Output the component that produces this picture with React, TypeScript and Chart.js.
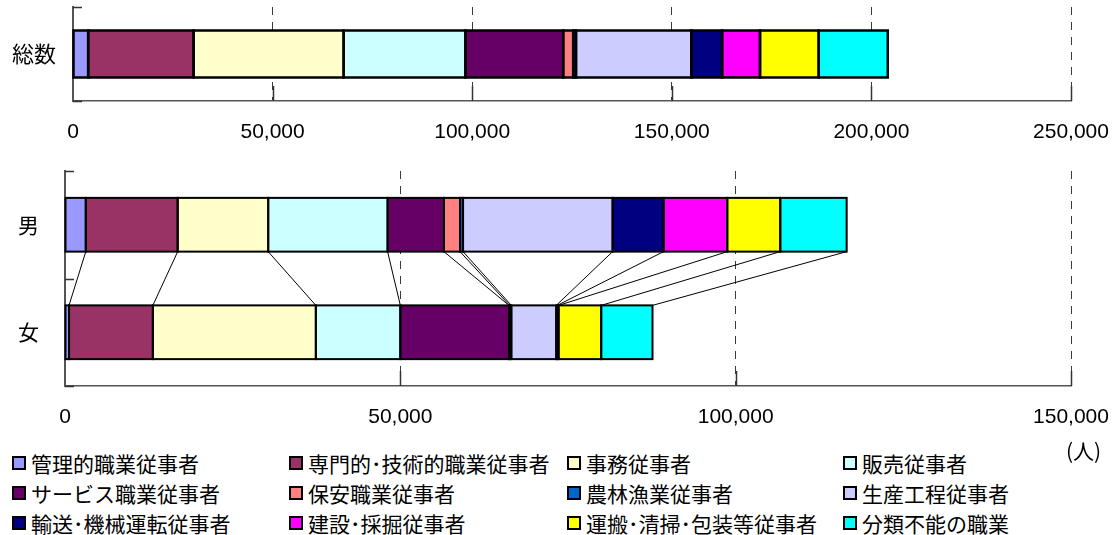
import React, { useEffect, useRef } from 'react';
import { Chart, registerables } from 'chart.js';

Chart.register(...registerables);

// ---- data ----
const occupations = [
  '管理的職業従事者',
  '専門的･技術的職業従事者',
  '事務従事者',
  '販売従事者',
  'サービス職業従事者',
  '保安職業従事者',
  '農林漁業従事者',
  '生産工程従事者',
  '輸送･機械運転従事者',
  '建設･採掘従事者',
  '運搬･清掃･包装等従事者',
  '分類不能の職業',
];

const colors = [
  '#9999FF',
  '#993366',
  '#FFFFCC',
  '#CCFFFF',
  '#660066',
  '#FF8080',
  '#0066CC',
  '#CCCCFF',
  '#000080',
  '#FF00FF',
  '#FFFF00',
  '#00FFFF',
];

const totalLabels = ['総数'];
const totalValues = [3800, 26400, 37600, 30500, 24500, 2500, 700, 28900, 7700, 9500, 14700, 17300];

const sexLabels = ['男', '女'];
const maleValues = [3100, 13700, 13500, 17800, 8400, 2400, 450, 22300, 7600, 9500, 7900, 9900];
const femaleValues = [600, 12500, 24300, 12600, 16200, 100, 250, 6700, 150, 200, 6350, 7650];

const topAxisMax = 250000;
const bottomAxisMax = 150000;
const axisStep = 50000;
const unitLabel = '(人)';

// ---- fonts ----
const NUM_FONT = '"Liberation Sans", Arial, sans-serif';
const JP_FONT = '"Noto Sans CJK JP", "Noto Sans", sans-serif';

// ---- plugins ----
const barOutline = {
  id: 'barOutline',
  afterDatasetsDraw(chart: any, _args: any, opts: any) {
    const ctx = chart.ctx;
    ctx.save();
    ctx.strokeStyle = '#000';
    ctx.lineWidth = opts.lineWidth || 2;
    chart.data.datasets.forEach((_ds: any, di: number) => {
      const meta = chart.getDatasetMeta(di);
      meta.data.forEach((el: any) => {
        const p = el.getProps(['x', 'y', 'base', 'height'], true);
        const x0 = Math.min(p.x, p.base);
        const w = Math.abs(p.x - p.base);
        ctx.strokeRect(x0, p.y - p.height / 2, w, p.height);
      });
    });
    if (opts.connectors) {
      ctx.lineWidth = 1;
      ctx.beginPath();
      chart.data.datasets.forEach((_ds: any, di: number) => {
        const meta = chart.getDatasetMeta(di);
        const a = meta.data[0].getProps(['x', 'y', 'height'], true);
        const b = meta.data[1].getProps(['x', 'y', 'height'], true);
        ctx.moveTo(a.x, a.y + a.height / 2);
        ctx.lineTo(b.x, b.y - b.height / 2);
      });
      ctx.stroke();
    }
    ctx.restore();
  },
};

const innerTicks = {
  id: 'innerTicks',
  afterDraw(chart: any) {
    const { ctx, chartArea } = chart;
    const { left, top, bottom } = chartArea;
    const xs = chart.scales.x;
    const ys = chart.scales.y;
    ctx.save();
    ctx.strokeStyle = '#333';
    ctx.lineWidth = 1.5;
    ctx.beginPath();
    xs.ticks.forEach((_t: any, i: number) => {
      if (i === 0) return;
      const px = Math.round(xs.getPixelForTick(i)) + 0.5;
      ctx.moveTo(px, bottom);
      ctx.lineTo(px, bottom - 15);
    });
    const n = ys.ticks.length;
    for (let i = 0; i <= n; i++) {
      const py = Math.round(top + ((bottom - top) * i) / n) + 0.5;
      ctx.moveTo(left, py);
      ctx.lineTo(left + 9, py);
    }
    ctx.stroke();
    ctx.restore();
  },
};

function zeroPadding(s: any) {
  s.paddingTop = 0;
  s.paddingBottom = 0;
  s.paddingLeft = 0;
  s.paddingRight = 0;
}

function makeConfig(
  labels: string[],
  series: number[][],
  max: number,
  opts: { padTop: number; padRight: number; xHeight: number; yWidth: number; yPad: number; yFont: number; outline: number; connectors: boolean }
): any {
  return {
    type: 'bar',
    data: {
      labels,
      datasets: occupations.map((name, i) => ({
        label: name,
        data: series.map((s) => s[i]),
        backgroundColor: colors[i],
        borderWidth: 0,
        barPercentage: 0.5,
        categoryPercentage: 1,
      })),
    },
    options: {
      indexAxis: 'y',
      animation: false,
      responsive: false,
      maintainAspectRatio: false,
      layout: { padding: { top: opts.padTop, right: opts.padRight, left: 0, bottom: 0 } },
      plugins: {
        legend: { display: false },
        tooltip: { enabled: false },
        barOutline: { lineWidth: opts.outline, connectors: opts.connectors },
      },
      scales: {
        x: {
          stacked: true,
          min: 0,
          max,
          ticks: {
            stepSize: axisStep,
            padding: 19,
            color: '#000',
            font: { family: NUM_FONT, size: 21 },
            autoSkip: false,
            maxRotation: 0,
            callback: (v: any) => Number(v).toLocaleString('en-US'),
          },
          grid: {
            drawTicks: false,
            lineWidth: 1,
            color: (c: any) => (c.tick && c.tick.value === 0 ? 'rgba(0,0,0,0)' : '#3a3a3a'),
          },
          border: { display: true, color: '#555', width: 1.5, dash: [8, 7] },
          afterFit: (s: any) => {
            s.height = opts.xHeight;
            zeroPadding(s);
          },
        },
        y: {
          stacked: true,
          ticks: {
            padding: opts.yPad,
            color: '#000',
            font: { family: JP_FONT, size: opts.yFont },
          },
          grid: { display: false, drawTicks: false },
          border: { display: true, color: '#555', width: 2 },
          afterFit: (s: any) => {
            s.width = opts.yWidth;
            zeroPadding(s);
          },
        },
      },
    },
    plugins: [barOutline, innerTicks],
  };
}

export default function App() {
  const topRef = useRef<HTMLCanvasElement | null>(null);
  const botRef = useRef<HTMLCanvasElement | null>(null);

  useEffect(() => {
    const c1 = new Chart(
      topRef.current as HTMLCanvasElement,
      makeConfig(totalLabels, [totalValues], topAxisMax, {
        padTop: 7,
        padRight: 43,
        xHeight: 49,
        yWidth: 73,
        yPad: 17,
        yFont: 22,
        outline: 2.5,
        connectors: false,
      })
    );
    const c2 = new Chart(
      botRef.current as HTMLCanvasElement,
      makeConfig(sexLabels, [maleValues, femaleValues], bottomAxisMax, {
        padTop: 21,
        padRight: 43,
        xHeight: 54,
        yWidth: 65,
        yPad: 26,
        yFont: 21,
        outline: 2,
        connectors: true,
      })
    );
    return () => {
      c1.destroy();
      c2.destroy();
    };
  }, []);

  const colX = [12, 289, 567, 843];
  const rowY = [463, 493, 523];

  return (
    <div
      style={{
        position: 'absolute',
        left: 0,
        top: 0,
        width: 1114,
        height: 535,
        background: '#fff',
        overflow: 'hidden',
      }}
    >
      <canvas
        ref={topRef}
        width={1114}
        height={150}
        style={{ position: 'absolute', left: 0, top: 0, width: 1114, height: 150 }}
      />
      <canvas
        ref={botRef}
        width={1114}
        height={290}
        style={{ position: 'absolute', left: 0, top: 150, width: 1114, height: 290 }}
      />
      {occupations.map((name, i) => {
        const col = i % 4;
        const row = Math.floor(i / 4);
        return (
          <div
            key={name}
            style={{
              position: 'absolute',
              left: colX[col],
              top: rowY[row] - 12,
              height: 24,
              display: 'flex',
              alignItems: 'center',
              whiteSpace: 'nowrap',
              fontFamily: JP_FONT,
              fontSize: 21,
              lineHeight: '24px',
              color: '#000',
            }}
          >
            <span
              style={{
                display: 'inline-block',
                width: 14,
                height: 14,
                boxSizing: 'border-box',
                border: '2px solid #000',
                background: colors[i],
                marginRight: 5,
              }}
            />
            <span>{name}</span>
          </div>
        );
      })}
      <div
        style={{
          position: 'absolute',
          left: 1066,
          top: 438,
          fontFamily: JP_FONT,
          fontSize: 21,
          lineHeight: '24px',
          color: '#000',
          whiteSpace: 'nowrap',
        }}
      >
        {unitLabel}
      </div>
    </div>
  );
}
